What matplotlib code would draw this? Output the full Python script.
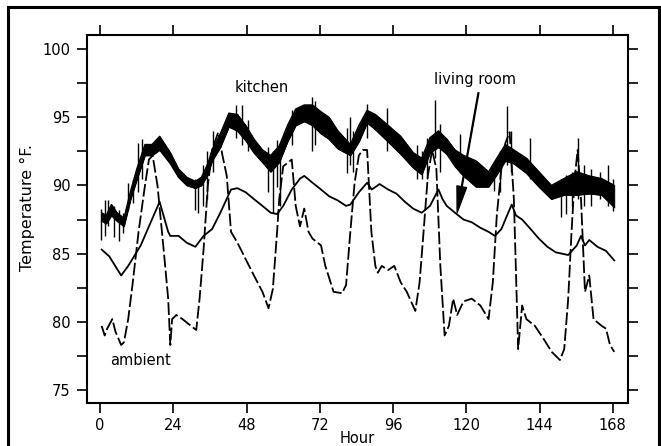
import matplotlib
matplotlib.use("Agg")
import matplotlib.pyplot as plt
from matplotlib.patches import Rectangle
import numpy as np

# ---- data ----
living_h = [0.5, 3, 6.9, 9.2, 13.3, 16, 19.5, 22.3, 23, 25.7, 28.4, 31.2, 33.9, 36.7, 39.4, 42.9, 45,
            47.7, 50.4, 53.2, 55.9, 58, 60, 62.8, 65.5, 66.9, 69.6, 72.4, 75.1, 77.9, 80.6, 82,
            84.8, 87.5, 89, 91.6, 94.4, 97.1, 99.9, 102.6, 105.4, 108.1, 110.9, 112.2, 113.6,
            116.3, 119.1, 121.8, 124.6, 127.3, 129.4, 131.5, 132.8, 134.9, 136.3, 138.3, 141.1,
            143.8, 146.6, 149.3, 153.4, 156.2, 157.6, 158.9, 160.3, 163, 165.8, 168.5]
living_t = [85.3, 84.8, 83.4, 84.1, 85.6, 87.0, 88.8, 86.6, 86.3, 86.3, 85.8, 85.5, 86.3, 86.8, 88.0,
            89.7, 89.8, 89.5, 89.0, 88.5, 88.0, 87.9, 88.5, 89.7, 90.5, 90.7, 90.2, 89.7, 89.2,
            88.9, 88.5, 88.6, 89.5, 90.2, 89.7, 90.1, 89.7, 89.4, 88.8, 88.3, 88.0, 88.5, 89.7,
            89.0, 88.5, 88.0, 87.5, 87.3, 86.9, 86.6, 86.3, 86.8, 87.5, 88.6, 87.8, 87.5, 86.8,
            86.1, 85.5, 85.1, 84.9, 85.6, 86.3, 85.6, 86.0, 85.5, 85.2, 84.5]

kitchen_h = [0.5, 2, 3.7, 5.5, 7.8, 10, 12, 14.7, 17, 19.5, 23, 25.7, 28.4, 31.2, 33.2, 35.3, 36.7,
             39.4, 42.2, 45, 47.7, 50.4, 53.2, 55.9, 58.7, 61.4, 64.1, 66.9, 69.6, 72.4, 75,
             77.9, 82, 84.8, 87.5, 90.2, 94.4, 98.5, 102.6, 105.4, 108.1, 110.9, 113.6, 116.3,
             119.1, 123.2, 127.3, 130, 132.8, 135.6, 139.7, 143.8, 147.9, 152, 156.2, 160.3,
             164.4, 168.5]
kitchen_hi = [88.0, 87.8, 88.6, 88.0, 87.6, 89.6, 91.2, 93.0, 93.0, 93.6, 92.4, 91.2, 90.6, 90.3,
              90.6, 91.6, 92.6, 93.8, 95.3, 95.2, 94.4, 93.4, 92.6, 92.2, 92.9, 94.4, 95.6, 95.9,
              95.9, 95.4, 95.0, 94.0, 93.0, 94.4, 95.5, 95.2, 94.4, 93.6, 92.4, 92.0, 93.5, 94.0,
              93.4, 92.6, 92.2, 91.8, 91.0, 92.0, 93.0, 92.6, 92.0, 91.0, 90.0, 90.5, 91.0, 90.7,
              90.5, 90.0]
kitchen_lo = [87.4, 87.2, 87.8, 87.4, 87.0, 89.0, 90.4, 92.2, 92.2, 92.6, 91.6, 90.6, 90.0, 89.8,
              90.0, 90.8, 91.8, 92.8, 94.3, 94.0, 93.3, 92.4, 91.7, 91.0, 91.7, 93.2, 94.4, 94.7,
              94.4, 93.8, 93.4, 92.7, 92.2, 93.2, 94.6, 94.1, 93.2, 92.3, 91.3, 90.8, 92.4, 92.8,
              92.3, 91.4, 90.7, 89.9, 89.9, 90.8, 91.8, 91.6, 90.9, 89.9, 89.0, 89.3, 89.3, 89.4,
              89.3, 88.4]

# vertical excursions of the kitchen trace (hour, low, high)
kspike_h = [0.3, 1.5, 2.7, 4.5, 6.2, 7.5, 9.3, 10.9, 12.5, 13.6, 31.0, 32.2, 33.6, 35.0, 37.0,
            44.5, 46.4, 48.5, 55.0, 56.6, 57.9, 59.0, 63.0, 69.4, 70.5, 80.8, 81.8, 83.0, 87.4,
            93.9, 104.0, 105.6, 107.0, 109.8, 111.5, 118.0, 129.0, 131.0, 133.2, 134.5, 141.0,
            151.2, 152.8, 154.5, 156.7, 158.5, 161.0, 163.8, 166.5, 168.2]
kspike_lo = [86.0, 86.3, 87.0, 86.2, 85.9, 86.5, 88.2, 88.7, 89.5, 90.5, 88.2, 88.0, 88.5, 89.0,
             91.0, 93.5, 93.0, 92.5, 89.5, 88.0, 89.9, 88.5, 93.0, 92.5, 93.0, 90.9, 91.5, 91.0,
             93.5, 92.5, 90.5, 90.5, 90.5, 92.0, 91.0, 90.9, 89.6, 89.5, 91.5, 91.0, 90.5, 87.7,
             87.9, 88.5, 89.0, 88.5, 88.5, 89.0, 88.5, 88.1]
kspike_hi = [88.3, 88.9, 88.9, 88.5, 88.2, 88.0, 90.2, 90.4, 93.1, 93.4, 90.5, 90.2, 91.5, 92.5,
             94.0, 95.9, 95.9, 94.8, 92.8, 92.5, 93.3, 92.0, 95.5, 96.5, 96.2, 94.2, 95.0, 94.0,
             96.0, 95.7, 93.0, 92.5, 93.5, 96.3, 94.5, 93.8, 91.5, 92.5, 95.8, 94.0, 93.5, 90.5,
             90.8, 91.0, 93.5, 91.5, 91.2, 91.0, 91.5, 90.5]

ambient_h = [0.5, 1.5, 2.3, 4, 5, 6.9, 7.8, 9.2, 10.6, 12.6, 14.7, 16, 17.2, 18.8, 20.9, 22.3, 23,
             23.6, 25, 27, 29.8, 31.5, 32.6, 33.9, 35.3, 36.7, 38.7, 40.1, 41.5, 42.9, 45, 47.7,
             50.4, 53.2, 55.2, 56.6, 58, 58.7, 60, 62.8, 64.1, 65.5, 66.9, 68.3, 69.6, 72.4, 73.8,
             75.1, 76.5, 79.3, 80.6, 82, 83.4, 84.8, 86.1, 87.5, 88.9, 90.2, 91, 92.3, 94.4, 96.4,
             98.5, 100.5, 103.3, 104.7, 106, 107.4, 108.8, 110.2, 111.5, 112.9, 114.3, 115.7, 117,
             119.1, 121.8, 124.6, 127.3, 128.7, 130, 131.5, 132.8, 134.2, 135.6, 137, 138.3, 139.7,
             142.5, 145.2, 148, 150.7, 152.1, 153.4, 154.5, 155.5, 156.5, 157.6, 158.9, 160.3,
             161.7, 164.4, 165.8, 167.1, 168.5]
ambient_t = [79.7, 79.0, 79.5, 80.2, 79.3, 78.3, 78.5, 80.2, 82.7, 86.6, 90.0, 91.9, 92.2, 90.0,
             85.1, 81.7, 78.3, 80.2, 80.5, 80.2, 79.7, 79.4, 81.7, 85.3, 90.0, 92.6, 93.9, 92.2,
             90.7, 86.6, 85.8, 84.6, 83.4, 82.2, 81.0, 82.4, 86.6, 89.0, 91.4, 91.9, 88.5, 87.0,
             88.3, 86.6, 86.1, 85.6, 84.1, 83.2, 82.2, 82.1, 82.7, 86.6, 90.2, 92.2, 92.6, 92.6,
             86.6, 84.1, 83.6, 84.1, 83.8, 84.1, 82.9, 82.2, 80.8, 82.9, 86.6, 90.7, 92.6, 91.2,
             84.1, 79.0, 79.7, 81.7, 80.5, 81.5, 81.7, 81.2, 80.2, 82.9, 87.8, 91.2, 93.1, 93.9,
             89.0, 78.0, 81.2, 80.2, 79.7, 78.8, 77.8, 77.2, 78.0, 81.7, 86.6, 90.5, 92.6, 89.0,
             82.2, 83.4, 80.2, 79.7, 79.5, 78.3, 77.8]

x_ticks = [0, 24, 48, 72, 96, 120, 144, 168]
y_ticks = [75, 80, 85, 90, 95, 100]

# ---- figure ----
plt.rcParams['font.family'] = ['DejaVu Sans']
fig = plt.figure(figsize=(6.61, 4.46), dpi=100)
ax = fig.add_axes([87/661, 1-403/446, (628-87)/661, (403-35)/446])

fig.patches.append(Rectangle((8/661, -0.05), (659-8)/661, 1.05-7/446, transform=fig.transFigure,
                             fill=False, lw=2.2, ec='black'))

ax.fill_between(kitchen_h, kitchen_lo, kitchen_hi, color='black', lw=0.6)
ax.plot(kitchen_h, kitchen_hi, color='black', lw=1.0)
ax.plot(kitchen_h, kitchen_lo, color='black', lw=1.0)
ax.vlines(kspike_h, kspike_lo, kspike_hi, color='black', lw=1.0)
ax.plot(living_h, living_t, color='black', lw=1.3)
ax.plot(ambient_h, ambient_t, color='black', lw=1.3, linestyle=(0, (7, 1.8)))

ax.text(53, 97.2, 'kitchen', ha='center', va='center', fontsize=10.5)
ax.text(123, 97.8, 'living room', ha='center', va='center', fontsize=10.5)
ax.text(13.3, 77.2, 'ambient', ha='center', va='center', fontsize=10.5)
ax.annotate('', xy=(117, 88.0), xytext=(124, 96.8),
            arrowprops=dict(facecolor='black', edgecolor='black', width=0.6, headwidth=7,
                            headlength=19, shrink=0))

ax.set_xlim(-4.3, 173)
ax.set_ylim(74.05, 101.03)
ax.set_xticks(x_ticks)
ax.set_yticks(y_ticks)
ax.set_yticks(np.arange(77.5, 100, 5), minor=True)
ax.tick_params(which='both', direction='out', length=7, width=1.2, labelsize=10.5,
               top=True, right=True, labeltop=False, labelright=False)
ax.tick_params(axis='y', pad=5)
for s in ax.spines.values():
    s.set_linewidth(1.5)
ax.set_xlabel('Hour', fontsize=10.5, labelpad=-1)
ax.set_ylabel('Temperature °F.', fontsize=11.5)
ax.yaxis.set_label_coords(-0.097, 0.531)

fig.savefig('out.png', dpi=100)
